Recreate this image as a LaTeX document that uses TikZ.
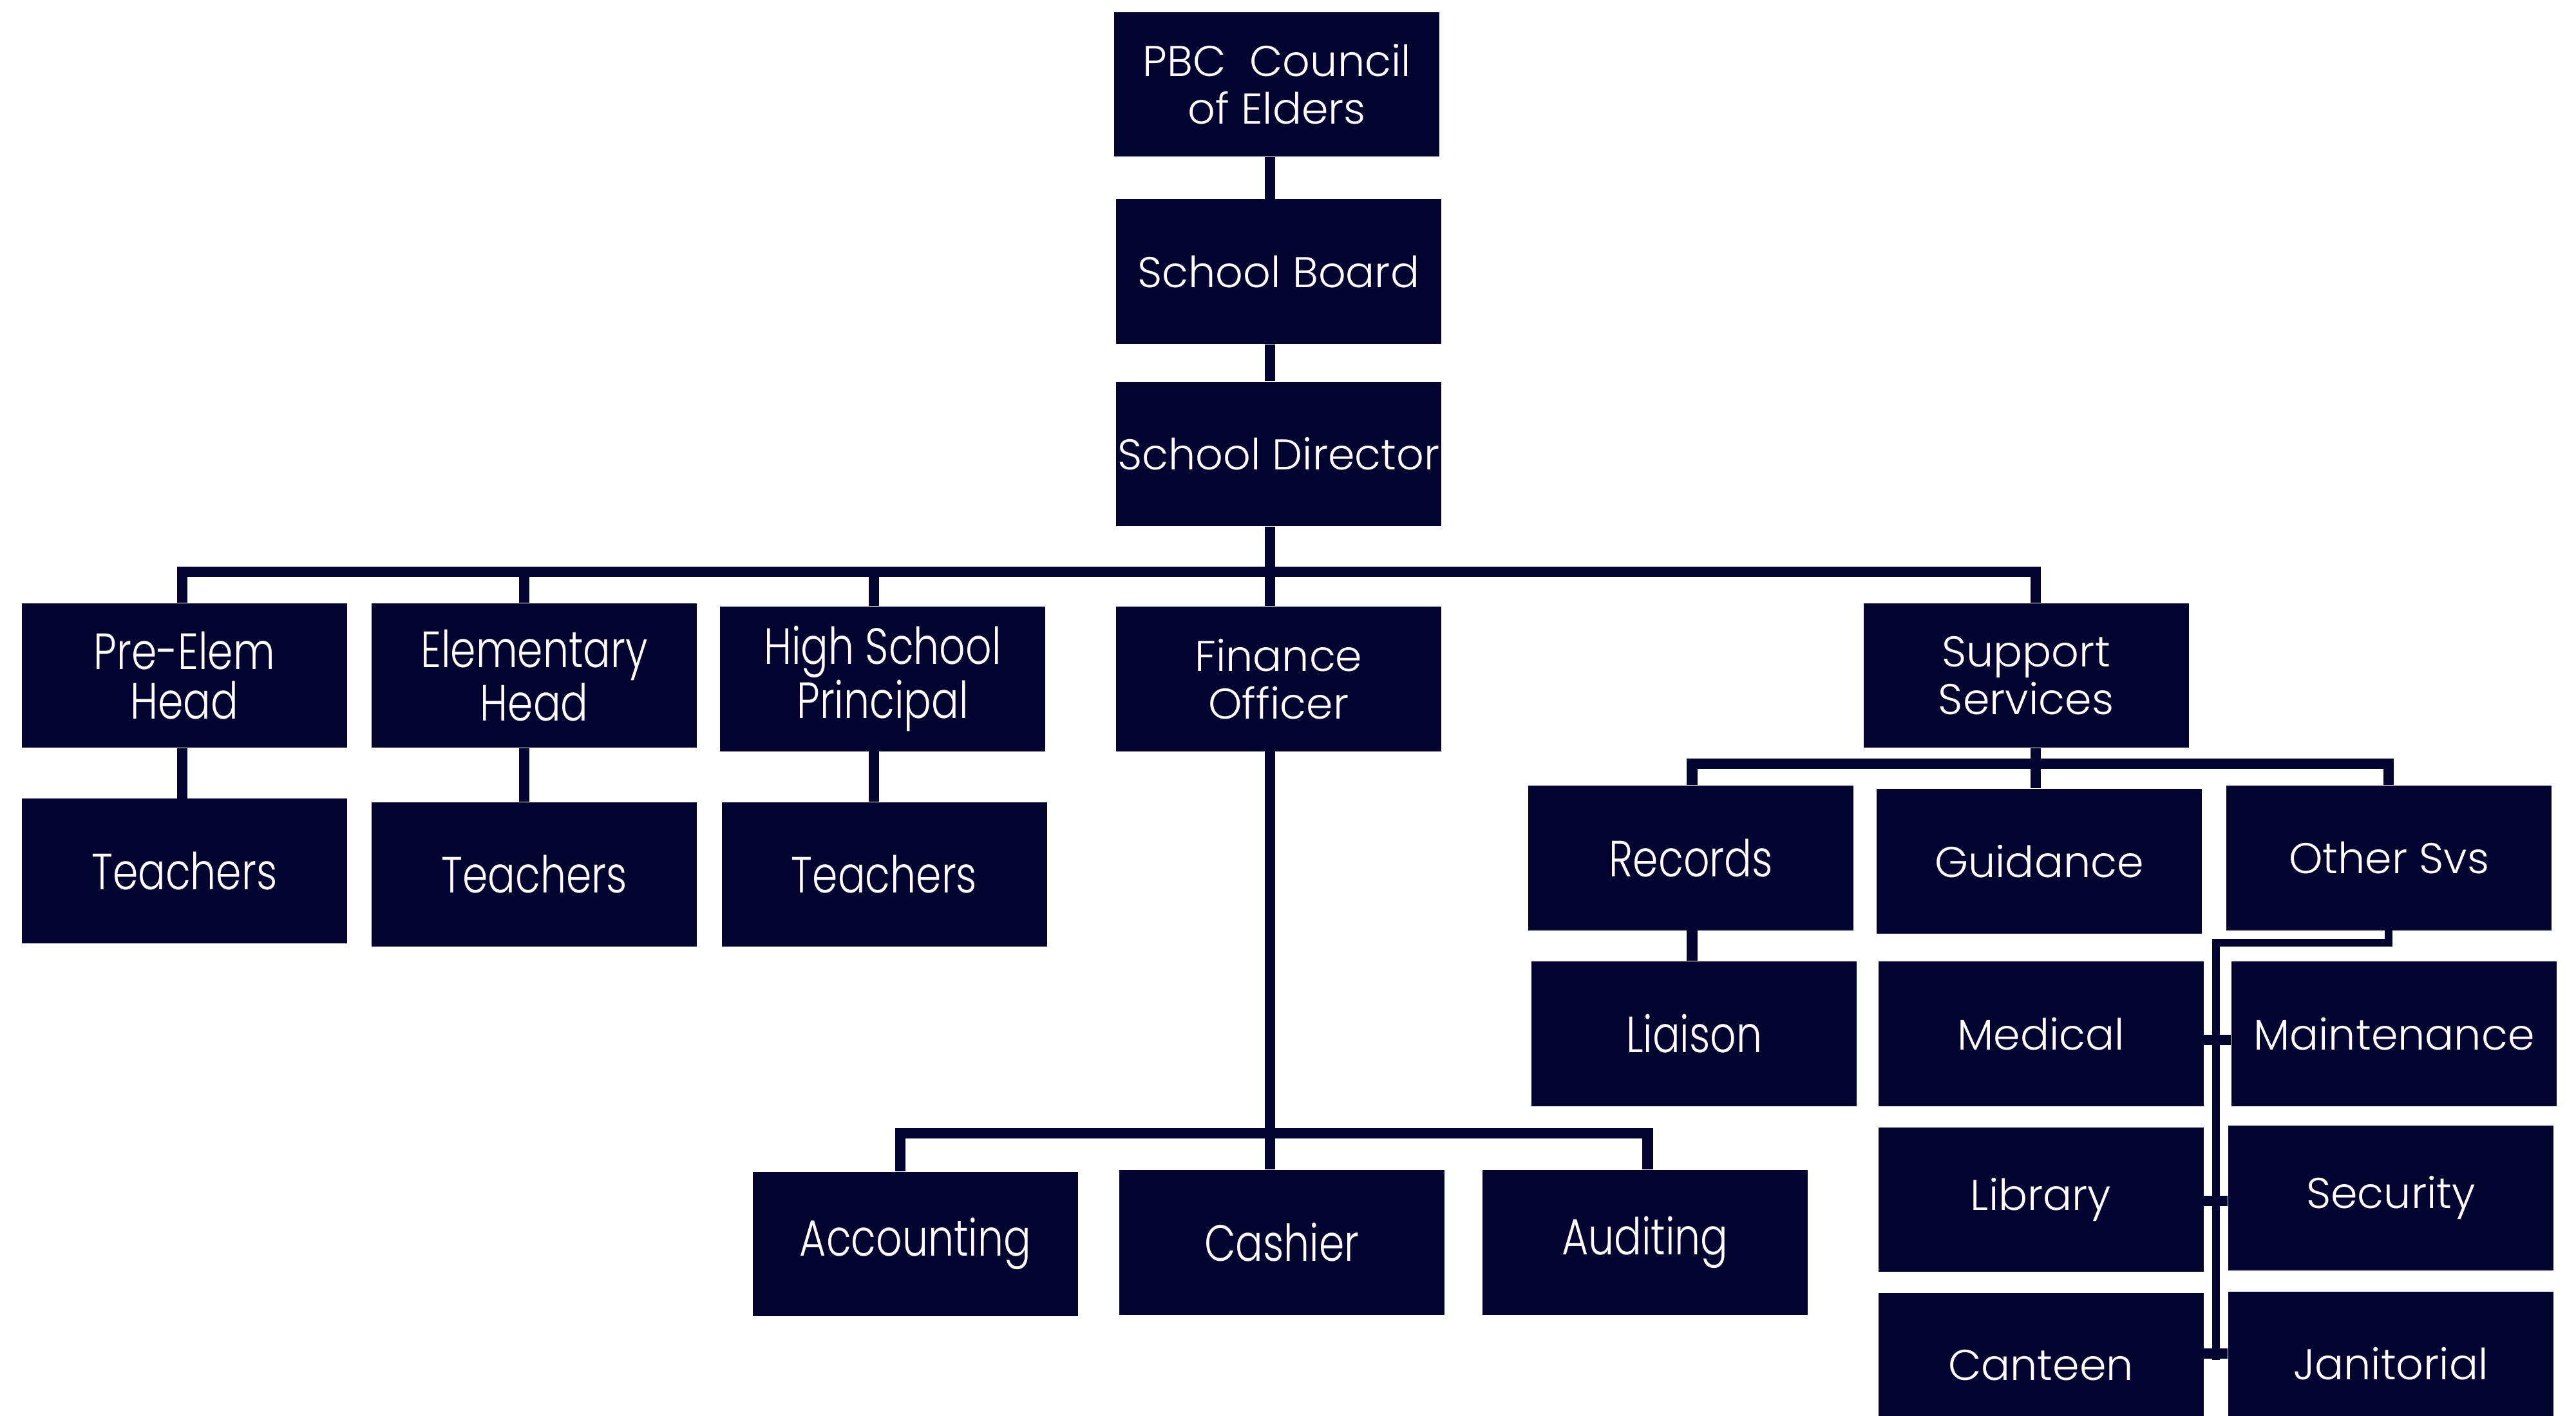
\documentclass[tikz,border=0pt]{standalone}
\usepackage{fontspec}
\setmainfont{Poppins}[UprightFont=* Light]
\newfontfamily\narrowfont{Poppins}[UprightFont=* Light, FakeStretch=0.8]
\definecolor{navy}{RGB}{3,4,48}
\tikzset{
  box/.style={rectangle, fill=navy, text=white, minimum width=5.05cm,
    minimum height=2.245cm, inner sep=0pt, anchor=north west, align=center,
    font=\fontsize{19}{21}\selectfont},
  narrowbox/.style={box, font=\narrowfont\fontsize{22.5}{22}\selectfont},
  link/.style={draw=navy, line width=0.165cm},
  thinlink/.style={draw=navy, line width=0.12cm},
}
\begin{document}
\begin{tikzpicture}[x=0.02551cm, y=-0.02551cm]
\useasboundingbox (0,0) rectangle (1568,862);

% boxes
\node[box] (pbc) at (678,7) {PBC\ \ Council\\of Elders};
\node[box] (board) at (679,121) {School Board};
\node[box] (dir) at (679,232) {School Director};
\node[narrowbox] (prek) at (13,367) {Pre-Elem\\Head};
\node[narrowbox] (elem) at (226,367) {Elementary\\Head};
\node[narrowbox] (hs) at (438,369) {High School\\Principal};
\node[box] (fin) at (679,369) {Finance\\Officer};
\node[box] (supp) at (1134,367) {Support\\Services};
\node[narrowbox] (t1) at (13,486) {Teachers};
\node[narrowbox] (t2) at (226,488) {Teachers};
\node[narrowbox] (t3) at (439,488) {Teachers};
\node[narrowbox] (acc) at (458,713) {Accounting};
\node[narrowbox] (cash) at (681,712) {Cashier};
\node[narrowbox] (aud) at (902,712) {Auditing};
\node[narrowbox] (rec) at (930,478) {Records};
\node[box] (guid) at (1142,480) {Guidance};
\node[box] (other) at (1355,478) {Other Svs};
\node[narrowbox] (liai) at (932,585) {Liaison};
\node[box] (med) at (1143,585) {Medical};
\node[box] (lib) at (1143,686) {Library};
\node[box] (cant) at (1143,787) {Canteen};
\node[box] (maint) at (1358,585) {Maintenance};
\node[box] (sec) at (1356,685) {Security};
\node[box] (jan) at (1356,786) {Janitorial};

% main spine and bus
\coordinate (spine) at (773,348);
\coordinate (busL) at (111,348);
\coordinate (busR) at (1239,348);
\coordinate (dElem) at (319,348);
\coordinate (dHS) at (532,348);
\draw[link] (pbc.south -| spine) -- (board.north -| spine);
\draw[link] (board.south -| spine) -- (dir.north -| spine);
\draw[link] (dir.south -| spine) -- (fin.north -| spine);
\draw[link] (prek.north -| busL) -- (busL) -- (busR) -- (supp.north -| busR);
\draw[link] (elem.north -| dElem) -- (dElem);
\draw[link] (hs.north -| dHS) -- (dHS);

% heads to teachers
\draw[link] (prek.south -| busL) -- (t1.north -| busL);
\draw[link] (elem.south -| dElem) -- (t2.north -| dElem);
\draw[link] (hs.south -| dHS) -- (t3.north -| dHS);

% finance branch
\coordinate (fbus) at (773,690);
\coordinate (fL) at (548,690);
\coordinate (fR) at (1003,690);
\draw[link] (fin.south -| fbus) -- (fbus);
\draw[link] (acc.north -| fL) -- (fL) -- (fR) -- (aud.north -| fR);
\draw[link] (fbus) -- (cash.north -| fbus);

% support services branch
\coordinate (sbus) at (1239,465);
\coordinate (sL) at (1030,465);
\coordinate (sR) at (1454,465);
\draw[link] (supp.south -| sbus) -- (sbus);
\draw[link] (rec.north -| sL) -- (sL) -- (sR) -- (other.north -| sR);
\draw[link] (sbus) -- (guid.north -| sbus);
\draw[link] (rec.south -| sL) -- (liai.north -| sL);

% other services column
\coordinate (oTurn) at (1454,574);
\coordinate (oCorner) at (1349,574);
\coordinate (oEnd) at (1349,828);
\draw[thinlink] (other.south -| oTurn) -- (oTurn) -- (oCorner) -- (oEnd);
\coordinate (s1) at (1349,633);
\coordinate (s2) at (1349,731);
\coordinate (s3) at (1349,824);
\draw[link] (med.east |- s1) -- (maint.west |- s1);
\draw[link] (lib.east |- s2) -- (sec.west |- s2);
\draw[link] (cant.east |- s3) -- (jan.west |- s3);
\end{tikzpicture}
\end{document}
